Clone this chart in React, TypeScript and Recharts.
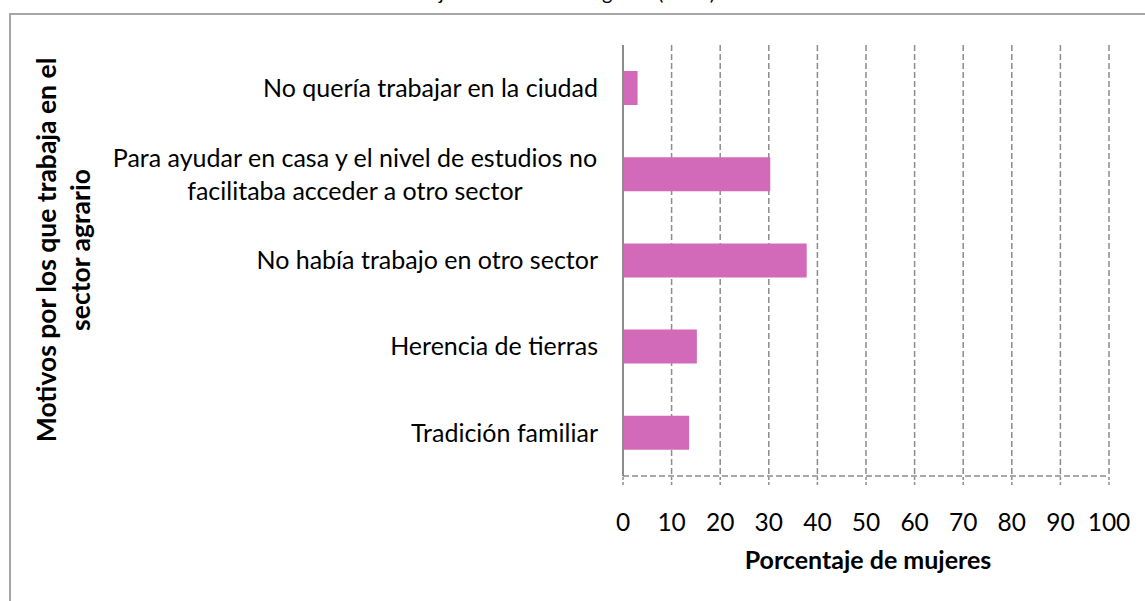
import React from "react";
import { BarChart, Bar, XAxis, YAxis, CartesianGrid, Label } from "recharts";

const categories = [
  "No quería trabajar en la ciudad",
  "Para ayudar en casa y el nivel de estudios no\nfacilitaba acceder a otro sector",
  "No había trabajo en otro sector",
  "Herencia de tierras",
  "Tradición familiar",
];
const values = [3.0, 30.3, 37.8, 15.2, 13.6];
const xTicks = [0, 10, 20, 30, 40, 50, 60, 70, 80, 90, 100];
const xTitle = "Porcentaje de mujeres";
const yTitleLines = ["Motivos por los que trabaja en el", "sector agrario"];
const chartTitle = "Mujeres en el sector agrario (2013)";

const data = categories.map((c, i) => ({ name: c, value: values[i] }));

const FONT = "Lato, 'Open Sans', sans-serif";
const CAT_SIZE = 25;

let ctx: CanvasRenderingContext2D | null = null;
function measure(t: string, font: string): number {
  if (!ctx) {
    const c = document.createElement("canvas");
    ctx = c.getContext("2d");
  }
  if (!ctx) return t.length * 11;
  ctx.font = font;
  return ctx.measureText(t).width;
}

function CatTick(props: any) {
  const { x, y, payload } = props;
  const lines: string[] = String(payload.value).split("\n");
  const lh = 33;
  const maxW = Math.max(...lines.map((l) => measure(l, `${CAT_SIZE}px Lato`)));
  const cx = x - maxW / 2;
  const startY = y - ((lines.length - 1) * lh) / 2;
  return (
    <g>
      {lines.map((l, i) => (
        <text
          key={i}
          x={lines.length > 1 ? cx : x}
          y={startY + i * lh}
          dy="0.35em"
          textAnchor={lines.length > 1 ? "middle" : "end"}
          fontFamily={FONT}
          fontSize={CAT_SIZE}
          fill="#000"
        >
          {l}
        </text>
      ))}
    </g>
  );
}

export default function App() {
  return (
    <div
      style={{
        position: "fixed",
        left: 0,
        top: 0,
        width: 1145,
        height: 601,
        overflow: "hidden",
        background: "#fff",
      }}
    >
      <div
        style={{
          position: "absolute",
          left: 9,
          top: 13,
          width: 1200,
          height: 700,
          border: "2px solid #A6A6A6",
          boxSizing: "border-box",
        }}
      />
      <div
        style={{
          position: "absolute",
          right: 1145 - 715,
          top: -20,
          fontFamily: FONT,
          fontSize: 20,
          lineHeight: "24px",
          whiteSpace: "nowrap",
          color: "#000",
        }}
      >
        {chartTitle}
      </div>
      <div style={{ position: "absolute", left: 0, top: 0 }}>
        <BarChart
          width={1145}
          height={601}
          data={data}
          layout="vertical"
          margin={{ top: 45, right: 36, bottom: 0, left: 0 }}
          barCategoryGap="60%"
        >
          <CartesianGrid
            horizontal={false}
            vertical={true}
            stroke="#8C8C8C"
            strokeWidth={1.5}
            strokeDasharray="6 3"
          />
          <XAxis
            type="number"
            domain={[0, 100]}
            ticks={xTicks}
            interval={0}
            height={125}
            axisLine={{ stroke: "#8C8C8C", strokeWidth: 1.5, strokeDasharray: "6 3" }}
            tickLine={{ stroke: "#8C8C8C", strokeWidth: 1.5, strokeDasharray: "3 2" }}
            tickSize={9}
            tickMargin={29}
            tick={{ fontFamily: FONT, fontSize: 24.5, fill: "#000" }}
          >
            <Label
              content={() => (
                <text
                  x={868}
                  y={560}
                  dy="0.35em"
                  textAnchor="middle"
                  fontFamily={FONT}
                  fontWeight="bold"
                  fontSize={25}
                  fill="#000"
                >
                  {xTitle}
                </text>
              )}
            />
          </XAxis>
          <YAxis
            type="category"
            dataKey="name"
            width={623}
            axisLine={{ stroke: "#8C8C8C", strokeWidth: 2 }}
            tickLine={false}
            tickSize={0}
            tickMargin={25}
            interval={0}
            tick={<CatTick />}
          >
            <Label
              content={() => (
                <text
                  transform="rotate(-90, 63, 250)"
                  x={63}
                  y={250}
                  textAnchor="middle"
                  fontFamily={FONT}
                  fontWeight="bold"
                  fontSize={26.5}
                  fill="#000"
                >
                  <tspan x={63} dy="-0.25em">
                    {yTitleLines[0]}
                  </tspan>
                  <tspan x={63} dy="1.25em">
                    {yTitleLines[1]}
                  </tspan>
                </text>
              )}
            />
          </YAxis>
          <Bar dataKey="value" fill="#D36AB9" barSize={34} isAnimationActive={false} />
        </BarChart>
      </div>
    </div>
  );
}
